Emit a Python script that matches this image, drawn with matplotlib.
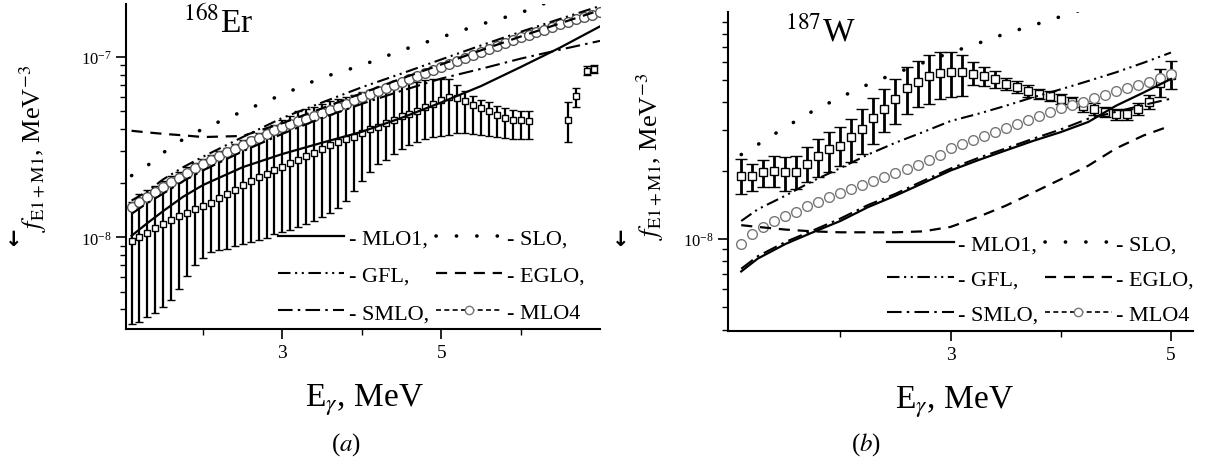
import numpy as np
import matplotlib
matplotlib.use('Agg')
import matplotlib.pyplot as plt
from matplotlib.lines import Line2D
from matplotlib.ticker import LogLocator, NullFormatter, FixedLocator

plt.rcParams['font.family'] = ['Liberation Serif', 'DejaVu Serif']
plt.rcParams['mathtext.fontset'] = 'stix'

# ---------------- panel (a): 168Er ----------------
# model curves, units of 1e-8 MeV^-3
Ea = [1.1, 1.3, 1.5, 1.75, 2.0, 2.5, 3.0, 3.5, 4.0, 4.5, 5.0, 5.5, 6.0, 6.5, 7.0]
a_mlo1 = [1.02, 1.2, 1.4, 1.68, 1.95, 2.45, 2.9, 3.35, 3.85, 4.6, 5.6, 6.9, 8.8, 11.3, 14.8]
a_slo = [2.2, 2.5, 2.95, 3.5, 4.0, 5.0, 6.2, 7.7, 9.0, 10.9, 12.9, 15.2, 17.6, 21.5, 25.0]
a_gfl = [1.6, 1.8, 2.1, 2.45, 2.8, 3.6, 4.6, 5.6, 6.8, 8.1, 9.7, 11.6, 13.8, 16.3, 19.2]
a_eglo = [3.9, 3.82, 3.75, 3.68, 3.6, 3.65, 4.3, 5.2, 6.3, 7.6, 9.1, 10.9, 13.0, 15.4, 18.2]
a_smlo = [1.35, 1.55, 1.75, 2.05, 2.35, 3.0, 3.75, 4.6, 5.5, 6.5, 7.6, 8.6, 9.8, 11.0, 12.3]

Ea_mlo4 = [1.1, 1.2, 1.3, 1.4, 1.5, 1.6, 1.7, 1.8, 1.9, 2.0, 2.1, 2.2, 2.3, 2.4, 2.5,
           2.6, 2.7, 2.8, 2.9, 3.0, 3.1, 3.2, 3.3, 3.4, 3.5, 3.6, 3.7, 3.8, 3.9, 4.0,
           4.1, 4.2, 4.3, 4.4, 4.5, 4.6, 4.7, 4.8, 4.9, 5.0, 5.1, 5.2, 5.3, 5.4, 5.5,
           5.6, 5.7, 5.8, 5.9, 6.0, 6.1, 6.2, 6.3, 6.4, 6.5, 6.6, 6.7, 6.8, 6.9, 7.0]
a_mlo4 = [1.47, 1.57, 1.68, 1.79, 1.9, 2.02, 2.14, 2.27, 2.41, 2.55, 2.68, 2.82, 2.96, 3.1, 3.25,
          3.41, 3.57, 3.74, 3.92, 4.1, 4.25, 4.4, 4.56, 4.72, 4.9, 5.1, 5.3, 5.5, 5.75, 6.0,
          6.25, 6.5, 6.75, 7.0, 7.3, 7.6, 7.9, 8.2, 8.5, 8.8, 9.15, 9.5, 9.9, 10.3, 10.7,
          11.1, 11.5, 12.0, 12.4, 12.9, 13.3, 13.8, 14.2, 14.7, 15.2, 15.7, 16.2, 16.7, 17.2, 17.8]

# experiment, units of 1e-8
Ea_exp = [1.1, 1.2, 1.3, 1.4, 1.5, 1.6, 1.7, 1.8, 1.9, 2.0, 2.1, 2.2, 2.3, 2.4, 2.5,
          2.6, 2.7, 2.8, 2.9, 3.0, 3.1, 3.2, 3.3, 3.4, 3.5, 3.6, 3.7, 3.8, 3.9, 4.0,
          4.1, 4.2, 4.3, 4.4, 4.5, 4.6, 4.7, 4.8, 4.9, 5.0, 5.1, 5.2, 5.3, 5.4, 5.5,
          5.6, 5.7, 5.8, 5.9, 6.0, 6.1, 6.6, 6.7, 6.83, 6.93]
a_exp = [0.95, 1.0, 1.06, 1.12, 1.18, 1.25, 1.31, 1.37, 1.43, 1.49, 1.56, 1.65, 1.74, 1.84, 1.95,
         2.05, 2.15, 2.25, 2.36, 2.45, 2.6, 2.7, 2.82, 2.95, 3.1, 3.25, 3.4, 3.5, 3.62, 3.8,
         4.0, 4.1, 4.3, 4.5, 4.7, 4.85, 5.0, 5.3, 5.5, 5.8, 6.0, 5.9, 5.7, 5.4, 5.2,
         5.0, 4.8, 4.6, 4.5, 4.45, 4.4, 4.5, 6.1, 8.4, 8.6]
a_hi = [1.58, 1.73, 1.82, 1.92, 2.05, 2.18, 2.3, 2.45, 2.58, 2.71, 2.85, 3.0, 3.15, 3.3, 3.45,
        3.6, 3.8, 4.0, 4.2, 4.45, 4.7, 5.0, 5.15, 5.3, 5.5, 5.7, 5.85, 6.0, 6.15, 6.4,
        6.6, 6.75, 6.9, 7.0, 7.1, 7.2, 7.3, 7.45, 7.55, 7.6, 7.6, 7.0, 6.5, 6.1, 5.8,
        5.6, 5.35, 5.2, 5.1, 5.0, 5.0, 5.6, 6.7, 8.9, 9.0]
a_lo = [0.33, 0.34, 0.36, 0.38, 0.41, 0.45, 0.52, 0.61, 0.70, 0.77, 0.83, 0.85, 0.86, 0.90, 0.92,
        0.94, 0.97, 0.99, 1.04, 1.07, 1.10, 1.14, 1.18, 1.23, 1.29, 1.36, 1.45, 1.6, 1.8, 2.05,
        2.3, 2.55, 2.7, 2.9, 3.1, 3.25, 3.4, 3.5, 3.6, 3.65, 3.7, 3.8, 3.8, 3.75, 3.7,
        3.65, 3.6, 3.55, 3.5, 3.5, 3.5, 3.4, 5.3, 8.0, 8.2]

# ---------------- panel (b): 187W ----------------
Eb = [1.1, 1.25, 1.5, 1.75, 2.0, 2.25, 2.5, 2.75, 3.0, 3.25, 3.5, 3.75, 4.0, 4.25, 4.5, 4.75, 5.0]
b_mlo1 = [0.72, 0.82, 0.95, 1.07, 1.2, 1.38, 1.55, 1.76, 2.0, 2.22, 2.45, 2.7, 2.95, 3.27, 3.85, 4.4, 5.05]
b_slo = [2.35, 2.6, 3.1, 3.65, 4.2, 4.78, 5.35, 5.95, 6.6, 7.25, 8.0, 8.7, 9.5, 10.4, 11.3, 12.3, 13.4]
b_gfl = [1.2, 1.35, 1.55, 1.8, 2.05, 2.35, 2.65, 2.95, 3.3, 3.55, 3.85, 4.2, 4.55, 4.95, 5.4, 5.95, 6.6]
b_eglo = [1.15, 1.13, 1.1, 1.08, 1.07, 1.07, 1.07, 1.08, 1.13, 1.25, 1.4, 1.6, 1.83, 2.1, 2.5, 2.85, 3.15]
b_smlo = [0.74, 0.84, 0.97, 1.09, 1.23, 1.41, 1.58, 1.8, 2.04, 2.27, 2.5, 2.76, 3.03, 3.38, 3.62, 3.88, 4.14]

Eb_pts = [1.1, 1.2, 1.3, 1.4, 1.5, 1.6, 1.7, 1.8, 1.9, 2.0, 2.1, 2.2, 2.3, 2.4, 2.5,
          2.6, 2.7, 2.8, 2.9, 3.0, 3.1, 3.2, 3.3, 3.4, 3.5, 3.6, 3.7, 3.8, 3.9, 4.0,
          4.1, 4.2, 4.3, 4.4, 4.5, 4.6, 4.7, 4.8, 4.9, 5.0]
b_mlo4 = [0.95, 1.05, 1.13, 1.2, 1.26, 1.32, 1.39, 1.46, 1.53, 1.6, 1.66, 1.73, 1.8, 1.87, 1.95,
          2.03, 2.12, 2.23, 2.35, 2.5, 2.62, 2.73, 2.84, 2.95, 3.07, 3.2, 3.33, 3.48, 3.62, 3.75,
          3.88, 4.0, 4.15, 4.3, 4.45, 4.6, 4.75, 4.92, 5.1, 5.3]
b_exp = [1.9, 1.9, 1.97, 2.0, 1.97, 1.97, 2.14, 2.32, 2.49, 2.57, 2.82, 3.05, 3.39, 3.74, 4.14,
         4.62, 4.9, 5.18, 5.37, 5.44, 5.44, 5.33, 5.22, 5.05, 4.82, 4.67, 4.49, 4.35, 4.27, 4.14,
         4.0, 3.83, 3.74, 3.62, 3.55, 3.55, 3.72, 4.0, 4.85, 5.28]
b_hi = [2.25, 2.14, 2.23, 2.32, 2.3, 2.32, 2.54, 2.76, 2.96, 3.11, 3.38, 3.74, 4.18, 4.58, 5.07,
        5.73, 6.08, 6.46, 6.67, 6.67, 6.46, 6.02, 5.73, 5.5, 5.12, 4.97, 4.77, 4.58, 4.49, 4.35,
        4.22, 4.05, 3.97, 3.81, 3.74, 3.74, 3.97, 4.31, 5.61, 6.08]
b_lo = [1.58, 1.63, 1.69, 1.69, 1.63, 1.66, 1.78, 1.88, 1.97, 2.1, 2.18, 2.37, 2.62, 2.96, 3.21,
        3.56, 3.81, 3.94, 4.14, 4.23, 4.27, 4.77, 4.72, 4.62, 4.53, 4.4, 4.22, 4.14, 4.05, 3.93,
        3.81, 3.62, 3.52, 3.45, 3.34, 3.34, 3.52, 3.74, 4.22, 4.58]

sc = 1e-8

styles = {
    'MLO1': dict(color='black', lw=1.6, ls='-'),
    'SLO': dict(color='black', lw=2.6, ls=(0, (0.05, 5.6)), dash_capstyle='round'),
    'GFL': dict(color='black', lw=1.5, ls=(0, (6, 2.2, 1, 2.2, 1, 2.2))),
    'EGLO': dict(color='black', lw=1.6, ls=(0, (5, 3.5))),
    'SMLO': dict(color='black', lw=1.5, ls=(0, (7, 2.5, 1.2, 2.5))),
}

fig = plt.figure(figsize=(12.27, 4.64), dpi=100)
ax1 = fig.add_axes([126 / 1227, 1 - 330 / 464, 474 / 1227, 325 / 464])
ax2 = fig.add_axes([728 / 1227, 1 - 332 / 464, 465 / 1227, 319 / 464])


def draw(ax, E, curves, Em, mlo4, Ee, fe, lo, hi, msq, mci, cap, elw, mci_ec):
    fe = np.array(fe) * sc
    yerr = [fe - np.array(lo) * sc, np.array(hi) * sc - fe]
    ax.errorbar(Ee, fe, yerr=yerr, fmt='s', ms=msq, mfc='white', mec='black', mew=1.0,
                ecolor='black', elinewidth=elw, capsize=cap, capthick=elw, zorder=3)
    ax.plot(Em, np.array(mlo4) * sc, 'o', ms=mci, mfc='white', mec=mci_ec, mew=1.0, zorder=4)
    for name, vals in curves.items():
        ax.plot(E, np.array(vals) * sc, zorder=5, **styles[name])


draw(ax1, Ea, {'MLO1': a_mlo1, 'SLO': a_slo, 'GFL': a_gfl, 'EGLO': a_eglo, 'SMLO': a_smlo},
     Ea_mlo4, a_mlo4, Ea_exp, a_exp, a_lo, a_hi, 5, 7, 3, 1.6, '#555555')
draw(ax2, Eb, {'MLO1': b_mlo1, 'SLO': b_slo, 'GFL': b_gfl, 'EGLO': b_eglo, 'SMLO': b_smlo},
     Eb_pts, b_mlo4, Eb_pts, b_exp, b_lo, b_hi, 6, 7, 4, 2.0, '#777777')

ax1.set_xlim(1.03, 7.0)
ax1.set_ylim(3.1e-9, 1.97e-7)
ax2.set_xlim(0.98, 5.2)
ax2.set_ylim(3.94e-9, 0.995e-7)

handles = [Line2D([], [], **styles['MLO1']), Line2D([], [], **styles['GFL']),
           Line2D([], [], **styles['SMLO']), Line2D([], [], **styles['SLO']),
           Line2D([], [], **styles['EGLO']),
           Line2D([], [], color='black', lw=1.2, ls=(0, (3, 2)), marker='o', ms=6,
                  mfc='white', mec='#777777')]
labels = ['- MLO1,', '- GFL,', '- SMLO,', '- SLO,', '- EGLO,', '- MLO4']

for ax, anchor, lsp in [(ax1, (1.0, -0.03), 0.75), (ax2, (1.035, -0.03), 0.65)]:
    ax.set_yscale('log')
    ax.spines['top'].set_visible(False)
    ax.spines['right'].set_visible(False)
    ax.spines['left'].set_linewidth(1.5)
    ax.spines['bottom'].set_linewidth(1.5)
    ax.xaxis.set_major_locator(FixedLocator([3, 5]))
    ax.xaxis.set_minor_locator(FixedLocator([2, 4, 6]))
    ax.yaxis.set_major_locator(LogLocator(base=10))
    ax.yaxis.set_minor_locator(LogLocator(base=10, subs=np.arange(2, 10)))
    ax.yaxis.set_minor_formatter(NullFormatter())
    ax.tick_params(axis='both', which='major', direction='out', length=7, width=1.2, labelsize=14)
    ax.tick_params(axis='both', which='minor', direction='out', length=4, width=1.0)
    ax.tick_params(axis='y', which='major', labelsize=12)
    ax.set_xlabel(r'E$_\gamma$, MeV', fontsize=24)
    ax.set_ylabel(r'$f_{\mathrm{E1+M1}}$, MeV$^{-3}$', fontsize=19)
    ax.legend(handles, labels, ncol=2, loc='lower right', bbox_to_anchor=anchor,
              frameon=False, fontsize=16, handlelength=3.0, handletextpad=0.2,
              columnspacing=0.3, labelspacing=lsp, borderpad=0.2)

ax1.xaxis.set_label_coords(0.504, -0.16)
ax2.xaxis.set_label_coords(0.488, -0.165)
ax1.yaxis.set_label_coords(-0.162, 0.56)
ax2.yaxis.set_label_coords(-0.133, 0.55)

# vector arrow beside the ylabel
fig.text(14 / 1227, 1 - 240 / 464, '\u2193', fontsize=15, fontweight='bold',
         family='DejaVu Sans', ha='center', va='center')
fig.text(621 / 1227, 1 - 240 / 464, '\u2193', fontsize=15, fontweight='bold',
         family='DejaVu Sans', ha='center', va='center')

fig.text(183 / 1227, 1 - 22 / 464, r'$^{168}$Er', fontsize=24, va='center')
fig.text(785 / 1227, 1 - 32 / 464, r'$^{187}$W', fontsize=24, va='center')

fig.text(346 / 1227, 1 - 445 / 464, r'($a$)', fontsize=18, ha='center', va='center')
fig.text(866 / 1227, 1 - 445 / 464, r'($b$)', fontsize=18, ha='center', va='center')

fig.savefig('out.png', dpi=100)
